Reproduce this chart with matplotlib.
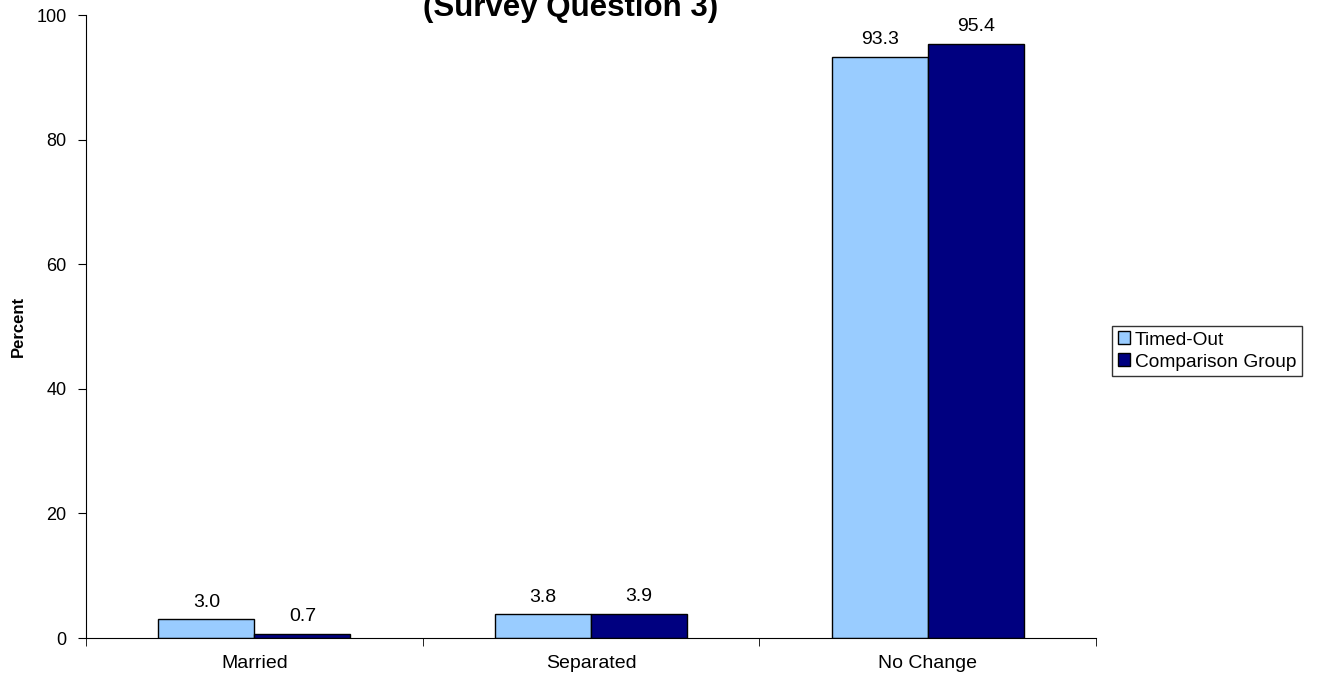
import numpy as np
import matplotlib.pyplot as plt

plt.rcParams['font.family'] = ['Liberation Sans', 'DejaVu Sans']

categories = ['Married', 'Separated', 'No Change']
timed_out = [3.0, 3.8, 93.3]
comparison = [0.7, 3.9, 95.4]
series_names = ['Timed-Out', 'Comparison Group']


def main():
    fig = plt.figure(figsize=(13.18, 6.77), dpi=100)
    ax = fig.add_axes([0.0653, 0.0576, 0.7663, 0.9202])

    x = np.arange(len(categories))
    w = 0.285
    b1 = ax.bar(x - w / 2, timed_out, w, color='#99CCFF', edgecolor='black',
                linewidth=1.0, label=series_names[0])
    b2 = ax.bar(x + w / 2, comparison, w, color='#000080', edgecolor='black',
                linewidth=1.0, label=series_names[1])
    for bars in (b1, b2):
        for r in bars:
            ax.annotate('%.1f' % r.get_height(),
                        (r.get_x() + r.get_width() / 2, r.get_height()),
                        xytext=(0, 6), textcoords='offset points',
                        ha='center', va='bottom', fontsize=14)

    ax.set_xlim(-0.5, len(categories) - 0.5)
    ax.set_ylim(0, 100)
    ax.set_yticks(range(0, 101, 20))
    ax.set_xticks(x)
    ax.set_xticklabels(categories, fontsize=14)
    ax.set_xticks(np.arange(-0.5, len(categories)), minor=True)
    ax.tick_params(axis='x', which='major', length=0, pad=12)
    ax.tick_params(axis='x', which='minor', length=6, direction='out')
    ax.tick_params(axis='y', length=6, direction='out', labelsize=13, pad=8)
    for s in ('top', 'right'):
        ax.spines[s].set_visible(False)
    ax.set_ylabel('Percent', fontsize=12, fontweight='bold')
    ax.yaxis.set_label_coords(-0.060, 0.5)

    # title sits partly above the figure edge, as in the source image
    fig.text(0.433, 1 - 16 / 677, '(Survey Question 3)', ha='center',
             va='baseline', fontsize=22.5, fontweight='bold')

    leg = fig.legend(loc='center left', bbox_to_anchor=(0.8437, 0.4815),
                     fontsize=13.8, frameon=True, fancybox=False,
                     handlelength=0.65, handleheight=0.65, handletextpad=0.25,
                     borderpad=0.3, labelspacing=0.25, borderaxespad=0)
    leg.get_frame().set_edgecolor('black')
    leg.get_frame().set_linewidth(1.0)

    fig.savefig('out.png', dpi=100)


main()
